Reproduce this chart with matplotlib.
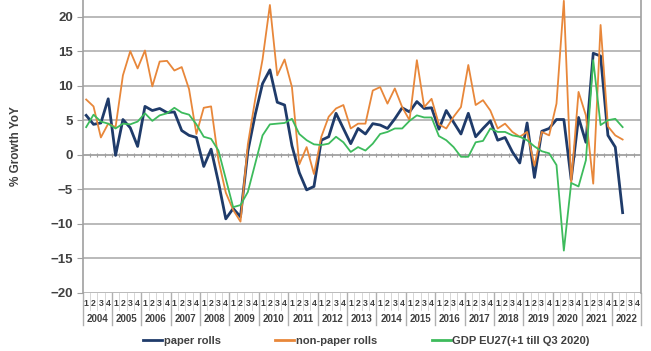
import matplotlib
matplotlib.use("Agg")
import matplotlib.pyplot as plt
import matplotlib.transforms as mtransforms
import numpy as np

plt.rcParams['font.family'] = ['Liberation Sans', 'DejaVu Sans']

years = list(range(2004, 2023))
quarter_labels = ["1", "2", "3", "4"]

paper_rolls = [5.7, 4.4, 4.6, 8.1,
               -0.1, 5.1, 3.9, 1.2,
               7.0, 6.4, 6.7, 6.1,
               6.2, 3.5, 2.8, 2.5,
               -1.7, 0.8, -4.0, -9.3,
               -7.8, -9.0, 0.5, 5.8,
               10.3, 12.3, 7.6, 7.2,
               1.3, -2.6, -5.1, -4.6,
               2.1, 2.6, 6.0, 3.8,
               1.6, 3.8, 3.0, 4.5,
               4.3, 3.8, 5.2, 6.8,
               6.2, 7.7, 6.7, 6.8,
               3.7, 6.4, 4.7, 3.0,
               6.0, 2.6, 3.8, 4.9,
               2.1, 2.5, 0.4, -1.2,
               4.6, -3.3, 3.4, 3.8,
               5.1, 5.1, -3.6, 5.4,
               1.8, 14.7, 14.3, 2.8,
               1.1, -8.4]

non_paper_rolls = [8.0, 7.0, 2.5, 4.5,
                   4.0, 11.5, 15.0, 12.5,
                   15.1, 9.9, 13.5, 13.6,
                   12.2, 12.7, 9.5, 3.0,
                   6.8, 7.0, -0.8, -5.5,
                   -8.0, -9.7, 1.5, 8.0,
                   13.8, 21.7, 11.5, 13.8,
                   9.8, -1.4, 1.1, -2.8,
                   2.6, 5.5, 6.7, 7.2,
                   3.8, 4.5, 4.5, 9.3,
                   9.8, 7.4, 9.6, 6.9,
                   5.0, 13.7, 6.9, 8.1,
                   4.4, 3.8, 5.5, 6.9,
                   13.0, 7.2, 7.9, 6.4,
                   3.8, 4.5, 3.3, 2.6,
                   3.3, -1.6, 3.3, 2.8,
                   7.4, 22.3, -4.1, 9.1,
                   5.7, -4.2, 18.8, 4.1,
                   2.8, 2.2]

gdp_eu27 = [4.0, 5.8, 4.8, 4.5,
            3.8, 4.5, 4.4, 4.8,
            6.0, 4.9, 5.7, 6.0,
            6.8, 6.1, 5.8, 4.4,
            2.6, 2.3, 0.6, -3.5,
            -7.6, -7.3, -5.4, -1.3,
            2.8, 4.4, 4.5, 4.6,
            5.2, 3.0, 2.1, 1.5,
            1.4, 1.6, 2.6, 1.8,
            0.4, 1.1, 0.6, 1.6,
            3.0, 3.3, 3.8, 3.8,
            4.9, 5.7, 5.4, 5.4,
            2.7, 2.1, 1.1, -0.3,
            -0.3, 1.8, 2.0, 3.8,
            3.3, 3.3, 2.8, 2.6,
            2.1, 1.2, 0.5, 0.2,
            -1.5, -13.9, -4.1, -4.6,
            -0.8, 13.7, 4.3, 5.0,
            5.2, 4.0]

series_names = ["paper rolls", "non-paper rolls", "GDP EU27(+1 till Q3 2020)"]
colors = ["#1F3B6A", "#E8873A", "#3DBB5C"]

n_q = len(years) * 4
x = np.arange(len(paper_rolls)) + 0.5

fig = plt.figure(figsize=(6.51, 3.51), dpi=100)
ax = fig.add_axes([82.5 / 651, 1 - 292.7 / 351, (641 - 82.5) / 651, 292.7 / 351])

grid_c = "#B4B4B4"
for v in range(-20, 21, 5):
    if v != 0:
        ax.axhline(v, color=grid_c, lw=1.3, zorder=1)
ax.axhline(0, color="#A0A0A0", lw=1.3, zorder=1)
ax.vlines(np.arange(1, n_q), -0.3, 0.3, color="#A0A0A0", lw=0.8, zorder=1)

l1, = ax.plot(x, paper_rolls, color=colors[0], lw=2.0, zorder=3, label=series_names[0])
l2, = ax.plot(x, non_paper_rolls, color=colors[1], lw=1.3, zorder=4, label=series_names[1])
l3, = ax.plot(x, gdp_eu27, color=colors[2], lw=1.3, zorder=5, label=series_names[2])

ax.set_xlim(0, n_q)
ax.set_ylim(-20, 22.42)
ax.set_yticks(range(-20, 21, 5))
ax.set_xticks([])
for s in ["top", "bottom"]:
    ax.spines[s].set_visible(False)
for s in ["left", "right"]:
    ax.spines[s].set_color("#A0A0A0")
    ax.spines[s].set_linewidth(1.2)
ax.tick_params(axis="y", length=4, color="#A0A0A0", pad=3, labelsize=9.5,
               labelcolor="#404040")
for t in ax.get_yticklabels():
    t.set_fontweight("bold")

ax.set_ylabel("% Growth YoY", fontsize=8.5, fontweight="bold", color="#404040")
ax.yaxis.set_label_coords(-0.108, 0.5)

# two-level category axis
trans = mtransforms.blended_transform_factory(ax.transData, ax.transAxes)
for i in range(n_q):
    ax.text(i + 0.5, -0.036, quarter_labels[i % 4], transform=trans, ha="center",
            va="center", fontsize=6.3, color="#404040", fontweight="bold")
for k, yr in enumerate(years):
    ax.text(4 * k + 2, -0.09, str(yr), transform=trans, ha="center", va="center",
            fontsize=7, color="#404040", fontweight="bold")
for i in range(n_q + 1):
    if i % 4 == 0:
        ax.plot([i, i], [0, -0.11], transform=trans, color="#B0B0B0", lw=1.0, clip_on=False)
    else:
        ax.plot([i, i], [0, -0.06], transform=trans, color="#D0D0D0", lw=0.6, clip_on=False)

leg = fig.legend(handles=[l1, l2, l3], loc="center", bbox_to_anchor=(0.563, 0.028),
                 ncol=3, frameon=False, handlelength=1.7, handletextpad=0.15,
                 columnspacing=4.9, prop={"size": 8, "weight": "bold"})
for t in leg.get_texts():
    t.set_color("#404040")
for h in leg.legend_handles:
    h.set_linewidth(2.0)

fig.savefig("out.png", dpi=100)
